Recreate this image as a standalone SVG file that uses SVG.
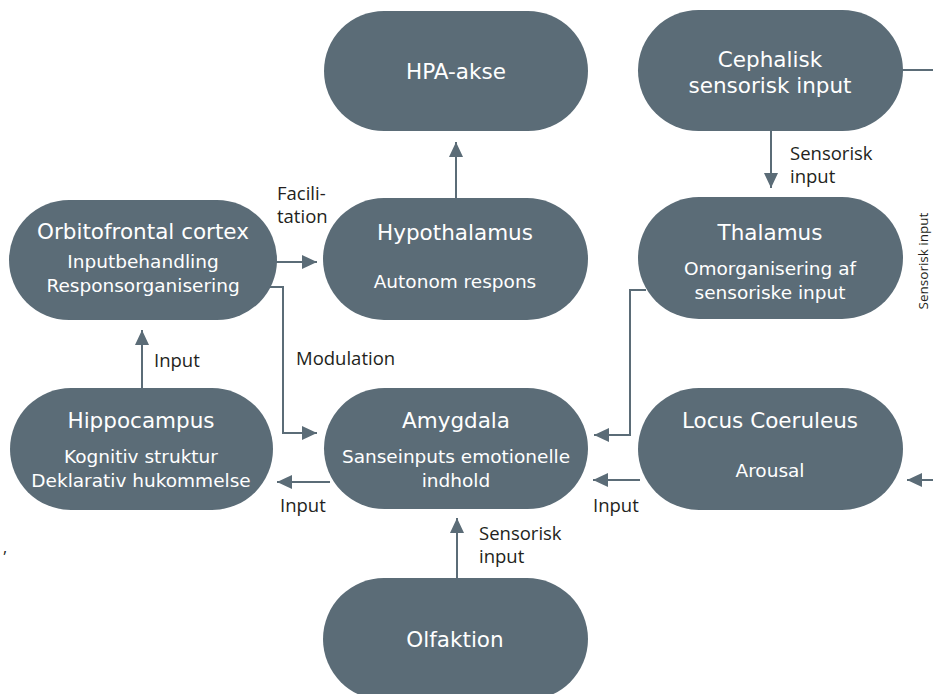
<svg xmlns="http://www.w3.org/2000/svg" width="933" height="694" viewBox="0 0 933 694">
  <style>
    .node { fill: #5b6c77; }
    .title { font-family: "DejaVu Sans", "Liberation Sans", sans-serif; font-size: 21.5px; fill: #ffffff; text-anchor: middle; }
    .sub { font-family: "DejaVu Sans", "Liberation Sans", sans-serif; font-size: 18.5px; fill: #ffffff; text-anchor: middle; }
    .lbl { font-family: "Open Sans", "Liberation Sans", sans-serif; font-size: 18.5px; fill: #231f20; }
    .edge { fill: none; stroke: #5b6c77; stroke-width: 2; }
  </style>
  <defs>
    <marker id="arrow" markerUnits="userSpaceOnUse" markerWidth="16" markerHeight="14" refX="15" refY="7" orient="auto">
      <path d="M0,0 L15,7 L0,14 Z" fill="#5b6c77"/>
    </marker>
  </defs>

  <rect width="933" height="694" fill="#ffffff"/>

  <!-- connectors -->
  <g id="connectors">
    <path class="edge" d="M456,198 V142" marker-end="url(#arrow)"/>
    <path class="edge" d="M771,130 V188" marker-end="url(#arrow)"/>
    <path class="edge" d="M272,262 H317" marker-end="url(#arrow)"/>
    <path class="edge" d="M266,287 H283 V433 H317" marker-end="url(#arrow)"/>
    <path class="edge" d="M142,388 V330" marker-end="url(#arrow)"/>
    <path class="edge" d="M330,482 H277" marker-end="url(#arrow)"/>
    <path class="edge" d="M646,290 H630 V435 H594" marker-end="url(#arrow)"/>
    <path class="edge" d="M640,480 H593" marker-end="url(#arrow)"/>
    <path class="edge" d="M900,70 H945"/>
    <path class="edge" d="M945,480 H907" marker-end="url(#arrow)"/>
    <path class="edge" d="M457,578 V518" marker-end="url(#arrow)"/>
  </g>

  <!-- connector labels -->
  <g id="labels">
    <text class="lbl" x="277" y="200">Facili-</text>
    <text class="lbl" x="277" y="223">tation</text>
    <text class="lbl" x="296" y="365">Modulation</text>
    <text class="lbl" x="154" y="367">Input</text>
    <text class="lbl" x="280" y="512">Input</text>
    <text class="lbl" x="593" y="512">Input</text>
    <text class="lbl" x="790" y="160">Sensorisk</text>
    <text class="lbl" x="790" y="183">input</text>
    <text class="lbl" x="479" y="540">Sensorisk</text>
    <text class="lbl" x="479" y="563">input</text>
    <text class="lbl" style="font-size:13.5px" text-anchor="middle" transform="translate(928,261) rotate(-90)">Sensorisk input</text>
    <text class="lbl" x="3" y="553" style="font-size:16px">,</text>
  </g>

  <g id="hpa">
    <rect class="node" x="324" y="11" width="264" height="120" rx="60"/>
    <text class="title" x="456" y="79">HPA-akse</text>
  </g>

  <g id="cephalisk">
    <rect class="node" x="638" y="10" width="265" height="121" rx="60.5"/>
    <text class="title" x="770" y="67">Cephalisk</text>
    <text class="title" x="770" y="93">sensorisk input</text>
  </g>

  <g id="orbitofrontal">
    <rect class="node" x="9" y="200" width="268" height="120" rx="60"/>
    <text class="title" x="143" y="239">Orbitofrontal cortex</text>
    <text class="sub" x="143" y="268">Inputbehandling</text>
    <text class="sub" x="143" y="292">Responsorganisering</text>
  </g>

  <g id="hypothalamus">
    <rect class="node" x="323" y="198" width="265" height="122" rx="61"/>
    <text class="title" x="455" y="240">Hypothalamus</text>
    <text class="sub" x="455" y="288">Autonom respons</text>
  </g>

  <g id="thalamus">
    <rect class="node" x="638" y="197" width="265" height="122" rx="61"/>
    <text class="title" x="770" y="240">Thalamus</text>
    <text class="sub" x="770" y="275">Omorganisering af</text>
    <text class="sub" x="770" y="299">sensoriske input</text>
  </g>

  <g id="hippocampus">
    <rect class="node" x="10" y="388" width="263" height="122" rx="61"/>
    <text class="title" x="141" y="428">Hippocampus</text>
    <text class="sub" x="141" y="463">Kognitiv struktur</text>
    <text class="sub" x="141" y="487">Deklarativ hukommelse</text>
  </g>

  <g id="amygdala">
    <rect class="node" x="324" y="388" width="264" height="121" rx="60.5"/>
    <text class="title" x="456" y="428">Amygdala</text>
    <text class="sub" x="456" y="463">Sanseinputs emotionelle</text>
    <text class="sub" x="456" y="487">indhold</text>
  </g>

  <g id="locus">
    <rect class="node" x="638" y="388" width="265" height="122" rx="61"/>
    <text class="title" x="770" y="428">Locus Coeruleus</text>
    <text class="sub" x="770" y="477">Arousal</text>
  </g>

  <g id="olfaktion">
    <rect class="node" x="323" y="578" width="265" height="122" rx="61"/>
    <text class="title" x="455" y="647">Olfaktion</text>
  </g>
</svg>
